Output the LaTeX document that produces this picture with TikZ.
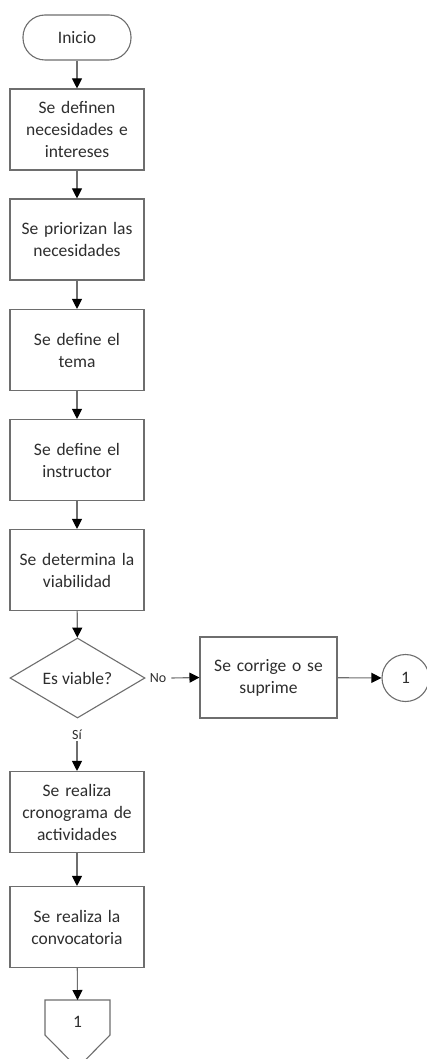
\documentclass[tikz,border=0pt]{standalone}
\usepackage{fontspec}
\setmainfont{Carlito}
\usetikzlibrary{arrows.meta,shapes.geometric}
\definecolor{linegray}{HTML}{6E6E6E}
\definecolor{txtgray}{HTML}{2E2E2E}
\tikzset{
  x=1pt, y=-1pt,
  every node/.style={font=\fontsize{17.5}{22}\selectfont, text=txtgray},
  procbox/.style={draw=linegray, line width=1.1pt, minimum width=134pt, minimum height=81pt,
    align=center, text width=130pt, inner sep=0pt},
  termbox/.style={draw=linegray, line width=1.1pt, rounded corners=22pt, minimum width=108pt,
    minimum height=45pt, inner sep=0pt},
  decision/.style={draw=linegray, line width=1.1pt, diamond, aspect=1.69, minimum width=135pt,
    minimum height=80pt, inner sep=0pt},
  connector/.style={draw=linegray, line width=1.1pt, circle, minimum size=47pt, inner sep=0pt},
  flow/.style={draw=linegray, line width=1.1pt, -{Triangle[length=10pt,width=10pt,fill=black,color=black]}},
  lbl/.style={font=\fontsize{14}{16}\selectfont, inner sep=1pt}
}
\begin{document}
\begin{tikzpicture}
\useasboundingbox (0,0) rectangle (427,1059);
\fill[white] (0,0) rectangle (427,1059);

\node[termbox] (inicio) at (77,37.5) {Inicio};
\node[procbox] (n1) at (77,129.5) {Se definen\\necesidades e\\intereses};
\node[procbox] (n2) at (77,239.5) {Se prioriza\hspace{0.3pt}n las\\necesidades};
\node[procbox] (n3) at (77,350) {Se define el\\tema};
\node[procbox] (n4) at (77,460) {Se define el\\instructor};
\node[procbox] (n5) at (77,570) {Se determina la\\viabilidad};
\node[decision] (d1) at (77.5,678) {Es viable?};
\node[procbox, minimum width=137pt] (n6) at (268.5,677.5) {Se corrige o se\\suprime};
\node[connector] (c1) at (405.5,678) {1};
\node[procbox] (n7) at (77,812) {Se realiza\\cronograma de\\actividades};
\node[procbox] (n8) at (77,927) {Se realiza la\\convocatoria};

% off-page connector (pentagon pointing down)
\coordinate (offtop) at (77.5,1000);
\draw[linegray, line width=1.1pt] (45,1000) -- (110,1000) -- (110,1035) -- (77.5,1068) -- (45,1035) -- cycle;
\node (off) at (77.5,1022) {1};

\draw[flow] (inicio) -- (n1);
\draw[flow] (n1) -- (n2);
\draw[flow] (n2) -- (n3);
\draw[flow] (n3) -- (n4);
\draw[flow] (n4) -- (n5);
\draw[flow] (n5) -- (d1);
\node[lbl, anchor=west] (no) at ([xshift=3pt]d1.east) {No};
\coordinate (noout) at ([xshift=4pt]no.east);
\draw[flow] (noout) -- (n6.west);
\draw[flow] (n6) -- (c1);
\node[lbl] (si) at (77,735) {Sí};
\draw[flow] (si.south) -- (n7.north);
\draw[flow] (n7) -- (n8);
\draw[flow] (n8) -- (offtop);
\end{tikzpicture}
\end{document}
